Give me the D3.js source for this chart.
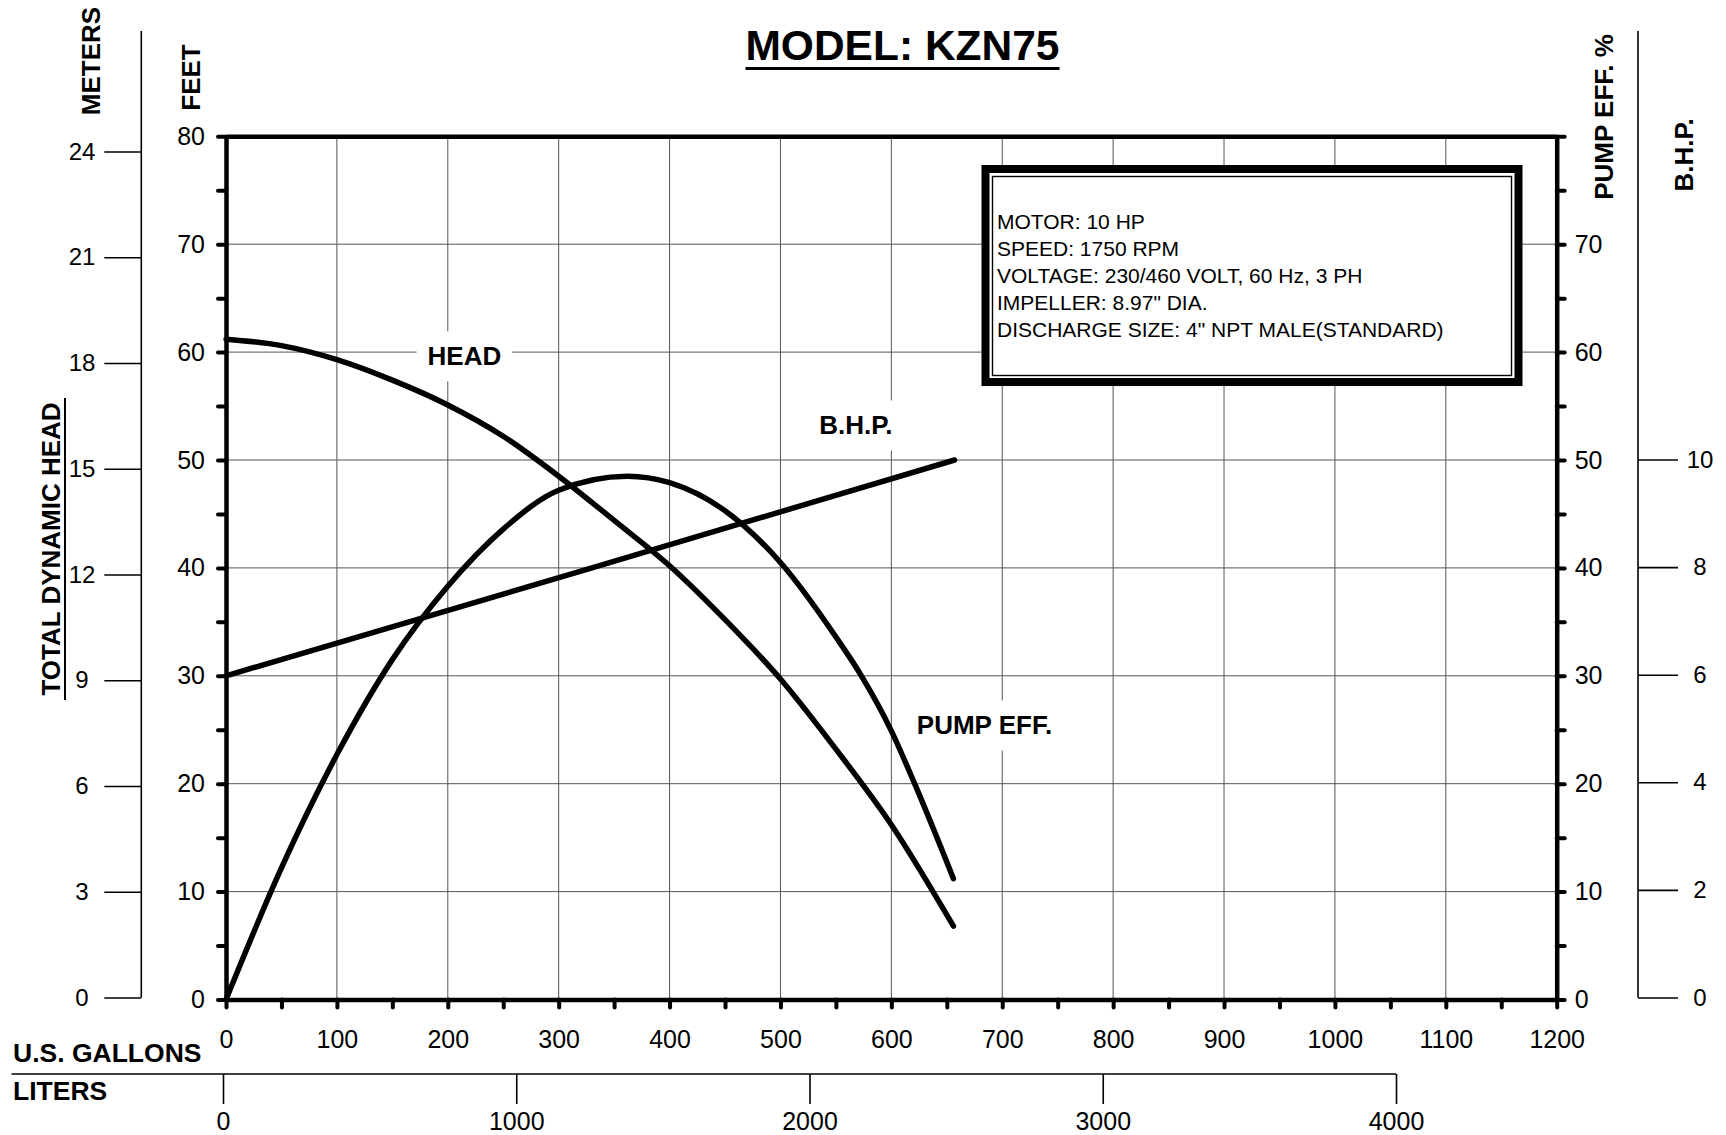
<!DOCTYPE html>
<html>
<head>
<meta charset="utf-8">
<script src="https://cdn.jsdelivr.net/npm/d3@7"></script>
<style>
  body { margin: 0; background: #fff; }
  svg { font-family: "Liberation Sans", Arial, sans-serif; }
</style>
</head>
<body>
<div id="chart"></div>
<script>
// tick values / labels
var gallonTicks = [0, 100, 200, 300, 400, 500, 600, 700, 800, 900, 1000, 1100, 1200];
var feetTicks = [0, 10, 20, 30, 40, 50, 60, 70, 80];
var pumpTicks = [0, 10, 20, 30, 40, 50, 60, 70];
var meterTicks = [0, 3, 6, 9, 12, 15, 18, 21, 24];
var bhpTicks = [0, 2, 4, 6, 8, 10];
var literTicks = [0, 1000, 2000, 3000, 4000];

// curves: [US gallons, value]
var headCurve = [[0, 61.2], [50, 60.6], [100, 59.3], [150, 57.4], [200, 55.1], [250, 52.2],
    [300, 48.5], [350, 44.4], [400, 40.2], [450, 35.2], [500, 29.7], [550, 23.2],
    [600, 16.2], [656, 6.8]];
var effCurve = [[0, 0], [50, 12.2], [100, 22.7], [150, 31.5], [200, 38.3], [250, 43.6],
    [300, 47.2], [362, 48.5], [400, 47.9], [450, 45.3], [500, 40.5], [550, 33.6],
    [573, 30], [600, 24.9], [621, 20], [656, 11.2]];
var bhpLine = [[0, 6.0], [330, 8.0], [657, 10.0]];

var specLines = ["MOTOR: 10 HP", "SPEED: 1750 RPM", "VOLTAGE: 230/460 VOLT, 60 Hz, 3 PH",
    "IMPELLER: 8.97\" DIA.", "DISCHARGE SIZE: 4\" NPT MALE(STANDARD)"];

var curveLabels = [
    {text: "HEAD", g: 215, v: 59.6},
    {text: "B.H.P.", g: 568, v: 53.2},
    {text: "PUMP EFF.", g: 684, v: 25.4}
];

var W = 1726, H = 1135;

var svg = d3.select("#chart")
    .append("svg")
    .attr("width", W)
    .attr("height", H)

var x = d3.scaleLinear().domain([0, 1200]).range([226, 1556.7]);
var y = d3.scaleLinear().domain([0, 80]).range([999.5, 136.3]);
var yM = d3.scaleLinear().domain([0, 24]).range([997.5, 151.5]);
var yB = d3.scaleLinear().domain([0, 10]).range([997.5, 459.5]);
// b.h.p. drawn on the plot: 10 hp sits on the 50 line
var yBplot = d3.scaleLinear().domain([0, 16]).range([999.5, 136.3]);
var xL = d3.scaleLinear().domain([0, 4000]).range([223, 1396]);

// grid
var grid = svg.append("g").attr("stroke", "#555").attr("stroke-width", 1);
grid.selectAll(".vg")
    .data(gallonTicks.filter(d => d > 0 && d < 1200))
    .join("line")
    .attr("x1", d => x(d)).attr("x2", d => x(d))
    .attr("y1", y(80)).attr("y2", y(0));
grid.selectAll(".hg")
    .data(feetTicks.filter(d => d > 0 && d < 80))
    .join("line")
    .attr("x1", x(0)).attr("x2", x(1200))
    .attr("y1", d => y(d)).attr("y2", d => y(d));

// white patches behind the curve names
var labelG = svg.append("g");
curveLabels.forEach(function(d) {
    var t = labelG.append("text")
        .attr("x", x(d.g))
        .attr("y", y(d.v))
        .attr("text-anchor", "middle")
        .attr("dominant-baseline", "central")
        .attr("font-size", 26)
        .attr("font-weight", "bold")
        .text(d.text);
    var bb = t.node().getBBox();
    labelG.insert("rect", "text")
        .attr("x", bb.x - 11)
        .attr("y", y(d.v) - 25)
        .attr("width", bb.width + 22)
        .attr("height", 50)
        .attr("fill", "#fff");
});

// info box
var box = svg.append("g");
box.append("rect")
    .attr("x", 985.5).attr("y", 169)
    .attr("width", 533).attr("height", 213)
    .attr("fill", "#fff").attr("stroke", "#000").attr("stroke-width", 8);
box.append("rect")
    .attr("x", 992.5).attr("y", 176.5)
    .attr("width", 519).attr("height", 199)
    .attr("fill", "none").attr("stroke", "#000").attr("stroke-width", 1.4);
box.selectAll(".spec")
    .data(specLines)
    .join("text")
    .attr("x", 997)
    .attr("y", (d, i) => 228.5 + i * 27)
    .attr("font-size", 21)
    .text(d => d);

// curves
var line = d3.line().curve(d3.curveMonotoneX);
var curves = svg.append("g")
    .attr("fill", "none")
    .attr("stroke", "#000")
    .attr("stroke-width", 5.5)
    .attr("stroke-linecap", "round")
    .attr("stroke-linejoin", "round");
curves.append("path")
    .attr("d", line(headCurve.map(d => [x(d[0]), y(d[1])])));
curves.append("path")
    .attr("d", line(effCurve.map(d => [x(d[0]), y(d[1])])));
curves.append("path")
    .attr("d", d3.line()(bhpLine.map(d => [x(d[0]), yBplot(d[1])])));

// main axes
function styleAxis(g, w) {
    g.select(".domain").attr("stroke-width", w).attr("stroke", "#000");
    g.selectAll(".tick line").attr("stroke-width", 4).attr("stroke-linecap", "round").attr("stroke", "#000");
    g.selectAll(".tick text").attr("font-size", 25).attr("fill", "#000")
        .attr("font-family", "Liberation Sans, Arial, sans-serif");
}

var tick5 = d3.range(0, 81, 5);

var leftAx = svg.append("g")
    .attr("transform", "translate(" + x(0) + ",0)")
    .call(d3.axisLeft(y).tickValues(tick5).tickSize(8).tickSizeOuter(0).tickPadding(13)
        .tickFormat(d => feetTicks.indexOf(d) >= 0 ? d : ""));
styleAxis(leftAx, 4.5);

var rightAx = svg.append("g")
    .attr("transform", "translate(" + x(1200) + ",0)")
    .call(d3.axisRight(y).tickValues(tick5).tickSize(8).tickSizeOuter(0).tickPadding(10)
        .tickFormat(d => pumpTicks.indexOf(d) >= 0 ? d : ""));
styleAxis(rightAx, 4.5);

var bottomAx = svg.append("g")
    .attr("transform", "translate(0," + y(0) + ")")
    .call(d3.axisBottom(x).tickValues(d3.range(0, 1201, 50)).tickSize(8).tickSizeOuter(0)
        .tickFormat(d => gallonTicks.indexOf(d) >= 0 ? d : ""));
styleAxis(bottomAx, 4.5);
bottomAx.selectAll(".tick text").attr("y", 40).attr("dy", "0.35em");

var topAx = svg.append("g")
    .attr("transform", "translate(0," + y(80) + ")")
    .call(d3.axisTop(x).tickValues([]).tickSizeOuter(0));
styleAxis(topAx, 4.5);

// meters axis
svg.append("line")
    .attr("x1", 141.3).attr("x2", 141.3)
    .attr("y1", 31).attr("y2", yM(0))
    .attr("stroke", "#000").attr("stroke-width", 1.6);
var mAx = svg.append("g")
    .attr("transform", "translate(141.3,0)")
    .call(d3.axisLeft(yM).tickValues(meterTicks).tickSize(37).tickSizeOuter(0));
mAx.select(".domain").remove();
mAx.selectAll(".tick line").attr("stroke", "#000").attr("stroke-width", 1.6);
mAx.selectAll(".tick text")
    .attr("x", -59.3).attr("text-anchor", "middle")
    .attr("font-size", 24).attr("fill", "#000")
    .attr("font-family", "Liberation Sans, Arial, sans-serif");

// b.h.p. axis
svg.append("line")
    .attr("x1", 1638).attr("x2", 1638)
    .attr("y1", 31).attr("y2", yB(0))
    .attr("stroke", "#000").attr("stroke-width", 1.6);
var bAx = svg.append("g")
    .attr("transform", "translate(1638,0)")
    .call(d3.axisRight(yB).tickValues(bhpTicks).tickSize(40).tickSizeOuter(0));
bAx.select(".domain").remove();
bAx.selectAll(".tick line").attr("stroke", "#000").attr("stroke-width", 1.6);
bAx.selectAll(".tick text")
    .attr("x", 62).attr("text-anchor", "middle")
    .attr("font-size", 24).attr("fill", "#000")
    .attr("font-family", "Liberation Sans, Arial, sans-serif");

// liters axis
svg.append("line")
    .attr("x1", 11.5).attr("x2", xL(4000))
    .attr("y1", 1074).attr("y2", 1074)
    .attr("stroke", "#000").attr("stroke-width", 1.6);
var lAx = svg.append("g")
    .attr("transform", "translate(0,1074)")
    .call(d3.axisBottom(xL).tickValues(literTicks).tickSize(30).tickSizeOuter(0)
        .tickFormat(d3.format("d")));
lAx.select(".domain").remove();
lAx.selectAll(".tick line").attr("stroke", "#000").attr("stroke-width", 1.6);
lAx.selectAll(".tick text")
    .attr("y", 47).attr("dy", "0.35em")
    .attr("font-size", 25).attr("fill", "#000")
    .attr("font-family", "Liberation Sans, Arial, sans-serif");

// titles
svg.append("text")
    .attr("x", 902.5).attr("y", 60)
    .attr("text-anchor", "middle")
    .attr("font-size", 42.5).attr("font-weight", "bold")
    .text("MODEL: KZN75")
    .each(function() {
        var bb = this.getBBox();
        svg.append("line")
            .attr("x1", bb.x).attr("x2", bb.x + bb.width)
            .attr("y1", 68.5).attr("y2", 68.5)
            .attr("stroke", "#000").attr("stroke-width", 3);
    });

var sideTitles = [
    {text: "METERS", x: 100, y: 61},
    {text: "FEET", x: 199.5, y: 77.5},
    {text: "TOTAL DYNAMIC HEAD", x: 59.5, y: 549},
    {text: "PUMP EFF. %", x: 1613, y: 117},
    {text: "B.H.P.", x: 1693, y: 155}
];
svg.selectAll(".side")
    .data(sideTitles)
    .join("text")
    .attr("transform", d => "translate(" + d.x + "," + d.y + ") rotate(-90)")
    .attr("text-anchor", "middle")
    .attr("font-size", 26).attr("font-weight", "bold")
    .text(d => d.text);

// underline of TOTAL DYNAMIC HEAD
svg.append("line")
    .attr("x1", 65).attr("x2", 65)
    .attr("y1", 398).attr("y2", 700)
    .attr("stroke", "#000").attr("stroke-width", 2);

svg.append("text")
    .attr("x", 13).attr("y", 1062)
    .attr("font-size", 26.5).attr("font-weight", "bold")
    .text("U.S. GALLONS");
svg.append("text")
    .attr("x", 13).attr("y", 1100)
    .attr("font-size", 26.5).attr("font-weight", "bold")
    .text("LITERS");
</script>
</body>
</html>
